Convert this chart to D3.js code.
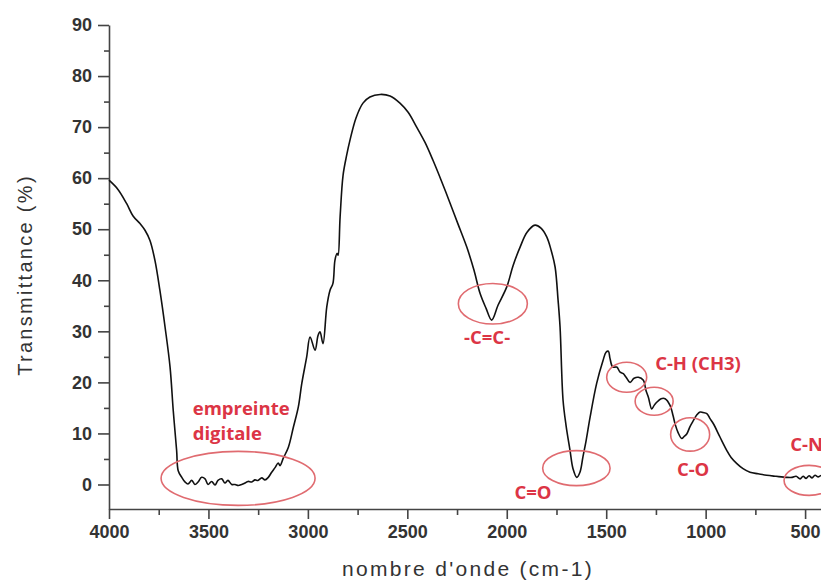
<!DOCTYPE html>
<html>
<head>
  <title>Spectre IR</title>
  <script src="https://d3js.org/d3.v7.min.js"></script>
  <style>
    body { margin: 0; background: #fff; }
  </style>
</head>
<body>

<div id="chart"></div>

<script>
// wavenumber (cm-1) and transmittance (%)
const waveNumbers = [
  4000, 3955, 3911, 3879, 3844, 3819, 3794, 3769, 3744, 3718, 3693, 3677, 3660, 3652,
  3634, 3618, 3603, 3584, 3568, 3552, 3534, 3517, 3502, 3484, 3467, 3452, 3433, 3417,
  3402, 3383, 3366, 3350, 3333, 3316, 3301, 3282, 3266, 3251, 3232, 3216, 3199, 3182,
  3165, 3149, 3140, 3123, 3098, 3073, 3048, 3031, 3006, 2989, 2964, 2949, 2939, 2924,
  2905, 2889, 2874, 2864, 2853, 2848, 2838, 2823, 2805, 2788, 2758, 2723, 2688, 2637,
  2587, 2537, 2496, 2453, 2411, 2371, 2330, 2285, 2245, 2201, 2165, 2134, 2104, 2076,
  2044, 2000, 1968, 1933, 1898, 1858, 1828, 1799, 1777, 1757, 1742, 1732, 1717, 1702,
  1682, 1667, 1648, 1632, 1617, 1601, 1581, 1548, 1516, 1501, 1489, 1481, 1467, 1447,
  1430, 1414, 1400, 1380, 1360, 1338, 1313, 1300, 1288, 1271, 1259, 1246, 1224, 1204,
  1179, 1164, 1154, 1139, 1120, 1108, 1095, 1078, 1062, 1043, 1028, 1013, 994, 978,
  961, 928, 894, 872, 843, 812, 777, 736, 693, 646, 592, 565, 545, 525,
  510, 495, 480, 465, 450, 434, 420
];
const transmittance = [
  59.6, 57.8, 55.0, 52.6, 51.1, 49.8, 47.8, 43.9, 38.0, 30.8, 23.0, 14.5, 6.7, 2.7,
  1.4, 0.5, 0.1, 0.8, 0.0, 0.5, 1.4, 1.1, 0.0, 0.6, -0.1, 0.8, 1.1, 0.3,
  0.8, 0.0, 0.0, -0.2, 0.0, 0.3, 0.6, 0.5, 0.9, 0.8, 1.3, 0.9, 1.4, 2.4,
  3.3, 4.2, 3.7, 5.2, 7.3, 11.2, 15.2, 19.7, 25.0, 28.9, 26.3, 29.2, 29.9, 27.6,
  34.8, 38.0, 39.4, 43.9, 45.3, 44.9, 52.4, 60.6, 64.5, 67.5, 71.8, 74.7, 75.9, 76.4,
  76.1, 74.7, 72.9, 70.0, 67.0, 63.5, 59.6, 55.1, 51.0, 46.5, 42.0, 37.4, 34.5, 32.2,
  35.1, 38.7, 42.9, 46.5, 49.4, 50.8, 50.2, 48.5, 45.9, 42.6, 36.1, 30.8, 16.5, 11.6,
  6.7, 3.1, 1.4, 2.4, 5.4, 8.6, 13.2, 19.8, 24.3, 25.9, 26.1, 24.7, 23.0, 23.0,
  22.0, 21.7, 21.0, 20.0, 20.8, 21.0, 20.4, 18.4, 17.1, 14.8, 15.5, 16.1, 16.8, 16.8,
  15.5, 13.5, 11.9, 10.2, 9.0, 9.4, 9.9, 11.4, 12.5, 13.7, 14.2, 14.1, 13.9, 12.9,
  11.9, 9.3, 6.7, 5.3, 4.1, 3.1, 2.4, 2.1, 1.8, 1.6, 1.4, 1.4, 1.6, 1.1,
  1.6, 1.2, 1.7, 1.3, 1.8, 1.5, 1.8
];

const xMajorTicks = [4000, 3500, 3000, 2500, 2000, 1500, 1000, 500];
const xMinorTicks = [3750, 3250, 2750, 2250, 1750, 1250, 750];
const yMajorTicks = [0, 10, 20, 30, 40, 50, 60, 70, 80, 90];
const yMinorTicks = [5, 15, 25, 35, 45, 55, 65, 75, 85];

// band labels: anchor in data units
const labelTexts = ["empreinte", "digitale", "-C=C-", "C=O", "C-H (CH3)", "C-O", "C-N"];
const labelWave  = [3579, 3579, 2099, 1868, 1254, 1063, 575];
const labelTrans = [13.7, 8.8, 27.6, -2.9, 22.4, 1.6, 6.5];
const labelAnchor = ["start", "start", "middle", "middle", "start", "middle", "start"];

// circled bands: centre in data units
const ringWave  = [3351, 2070, 1650, 1397, 1259, 1078, 480];
const ringTrans = [1.2, 35.4, 3.2, 21.0, 16.3, 9.8, 0.8];
const ringRx = [77, 34.5, 33.7, 20, 19, 19.5, 25];
const ringRy = [27, 20.3, 17.5, 15, 14, 16.7, 15];

const width = 821, height = 580;
const red = "#dc3545";

const svg = d3.select("#chart")
  .append("svg")
  .attr("width", width)
  .attr("height", height);

const x = d3.scaleLinear()
  .domain([4000, 420])
  .range([109, 821]);

const y = d3.scaleLinear()
  .domain([-4.8, 90])
  .range([509, 25]);

// axes
svg.append("g")
  .attr("transform", `translate(0,${y(-4.8)})`)
  .call(d3.axisBottom(x).tickValues(xMajorTicks).tickFormat(d3.format("d"))
    .tickSize(10).tickPadding(6).tickSizeOuter(0));
svg.append("g")
  .attr("transform", `translate(0,${y(-4.8)})`)
  .call(d3.axisBottom(x).tickValues(xMinorTicks).tickSize(6).tickFormat("").tickSizeOuter(0))
  .select(".domain").remove();

svg.append("g")
  .attr("transform", `translate(${x(4000)},0)`)
  .call(d3.axisLeft(y).tickValues(yMajorTicks).tickSize(11).tickPadding(6).tickSizeOuter(0));
svg.append("g")
  .attr("transform", `translate(${x(4000)},0)`)
  .call(d3.axisLeft(y).tickValues(yMinorTicks).tickSize(5).tickFormat("").tickSizeOuter(0))
  .select(".domain").remove();

svg.selectAll(".domain, .tick line")
  .attr("stroke", "#444")
  .attr("stroke-width", 1.6);

svg.selectAll(".tick text")
  .attr("fill", "#333")
  .style("font-family", "'Liberation Sans', Arial, sans-serif")
  .style("font-weight", "bold")
  .style("font-size", "18px");

// axis titles
svg.append("text")
  .attr("x", 468)
  .attr("y", 576)
  .attr("text-anchor", "middle")
  .attr("fill", "#333")
  .style("font-family", "'Liberation Sans', Arial, sans-serif")
  .style("font-size", "21px")
  .style("letter-spacing", "2.3px")
  .text("nombre d'onde (cm-1)");

svg.append("text")
  .attr("transform", "translate(32,275) rotate(-90)")
  .attr("text-anchor", "middle")
  .attr("fill", "#333")
  .style("font-family", "'Liberation Sans', Arial, sans-serif")
  .style("font-size", "20px")
  .style("letter-spacing", "2.3px")
  .text("Transmittance (%)");

// spectrum
const points = waveNumbers.map((w, i) => ({ w: w, t: transmittance[i] }));

const line = d3.line()
  .x(d => x(d.w))
  .y(d => y(d.t))
  .curve(d3.curveCatmullRom.alpha(0.5));

svg.append("path")
  .datum(points)
  .attr("fill", "none")
  .attr("stroke", "#111")
  .attr("stroke-width", 1.6)
  .attr("d", line);

// circled bands
svg.selectAll(".ring")
  .data(ringWave)
  .enter()
  .append("ellipse")
  .attr("class", "ring")
  .attr("cx", d => x(d))
  .attr("cy", (d, i) => y(ringTrans[i]))
  .attr("rx", (d, i) => ringRx[i])
  .attr("ry", (d, i) => ringRy[i])
  .attr("fill", "none")
  .attr("stroke", "#e06b70")
  .attr("stroke-width", 1.6);

// band labels
svg.selectAll(".band")
  .data(labelTexts)
  .enter()
  .append("text")
  .attr("class", "band")
  .attr("x", (d, i) => x(labelWave[i]))
  .attr("y", (d, i) => y(labelTrans[i]))
  .attr("text-anchor", (d, i) => labelAnchor[i])
  .attr("fill", red)
  .style("font-family", "'Open Sans', sans-serif")
  .style("font-weight", "bold")
  .style("font-size", "18.5px")
  .text(d => d);
</script>

</body>
</html>
